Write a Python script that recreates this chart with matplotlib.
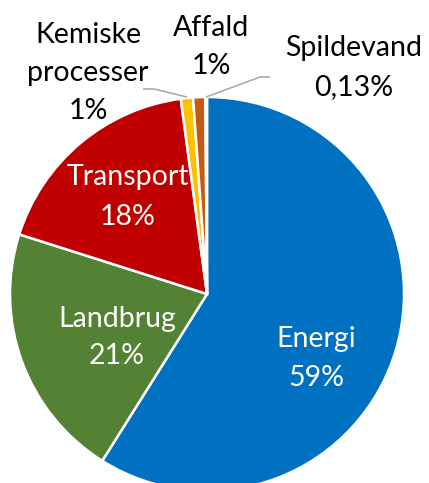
import matplotlib
matplotlib.use("Agg")
import matplotlib.pyplot as plt

categories = ["Energi", "Landbrug", "Transport", "Kemiske\nprocesser", "Affald", "Spildevand"]
values = [59, 21, 18, 1, 1, 0.13]
pct_labels = ["59%", "21%", "18%", "1%", "1%", "0,13%"]
colors = ["#0070C0", "#548235", "#C00000", "#FFC000", "#C55A11", "#A5A5A5"]

plt.rcParams['font.family'] = ['Lato', 'DejaVu Sans']

W, H = 429, 483
fig = plt.figure(figsize=(W / 100, H / 100), dpi=100)
ax = fig.add_axes([0, 0, 1, 1])

cx, cy, r = 207, H - 294, 197
ax.pie(values, colors=colors, startangle=90, counterclock=False,
       center=(cx, cy), radius=r, frame=True,
       wedgeprops=dict(edgecolor='white', linewidth=1.8))
ax.set_xlim(0, W)
ax.set_ylim(0, H)
ax.set_aspect('equal')
ax.axis('off')

fs = 20.5
# label placement: (x center, list of baselines in pixels from top), text colour
placement = [
    (316.5, [347, 386], 'white'),
    (117, [327, 364], 'white'),
    (128, [185, 225], 'white'),
    (88, [43, 81, 119], 'black'),
    (211, [36, 74], 'black'),
    (354, [56, 95], 'black'),
]
for cat, pct, (x, bls, col) in zip(categories, pct_labels, placement):
    lines = cat.split("\n") + [pct]
    for line, b in zip(lines, bls):
        ax.text(x, H - b, line, color=col, fontsize=fs, ha='center', va='baseline')

# leader lines
ax.plot([143, 154, 187], [H - 89, H - 89, H - 97], color='#A6A6A6', lw=1.1,
        solid_capstyle='butt')
ax.plot([270, 260, 206], [H - 77, H - 77, H - 97], color='#A6A6A6', lw=1.1,
        solid_capstyle='butt')

fig.savefig("out.png", dpi=100)
